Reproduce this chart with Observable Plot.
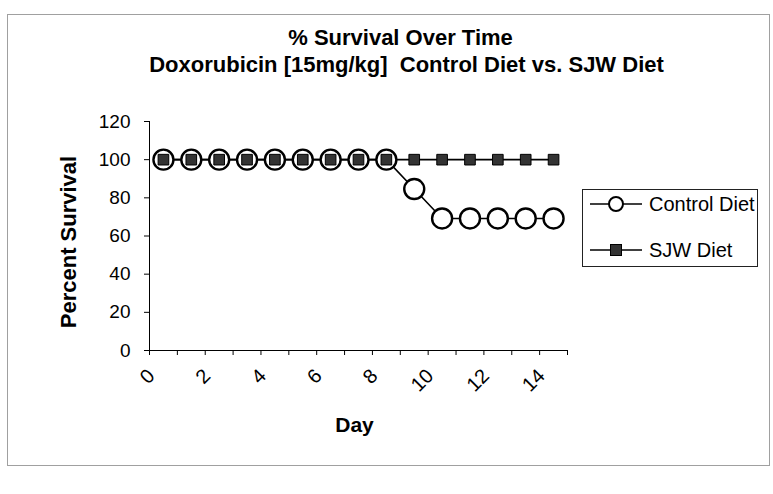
<!DOCTYPE html>
<html>
<head>
<meta charset="utf-8">
<script src="https://cdn.jsdelivr.net/npm/d3@7"></script>
<script src="https://cdn.jsdelivr.net/npm/@observablehq/plot@0.6"></script>
<style>
  html, body { margin: 0; padding: 0; background: #fff; }
  #wrap { position: relative; width: 773px; height: 494px; font-family: "Liberation Sans", Arial, sans-serif; }
  #border { position: absolute; left: 7px; top: 14px; width: 763px; height: 452px; border: 1px solid #a0a0a0; box-sizing: border-box; pointer-events: none; }
  #legend { position: absolute; left: 582px; top: 189px; width: 176px; height: 78px; border: 1px solid #222; box-sizing: border-box; background: #fff; }
  .item { position: absolute; left: 0; height: 24px; display: flex; align-items: center; font-size: 20px; color: #000; }
  .item svg { margin-left: 7px; margin-right: 7px; }
</style>
</head>
<body>
<div id="wrap">
  <div id="chart"></div>
  <div id="border"></div>
  <div id="legend"></div>
</div>
<script>
const days = [0, 1, 2, 3, 4, 5, 6, 7, 8, 9, 10, 11, 12, 13, 14];
const controlDiet = [100, 100, 100, 100, 100, 100, 100, 100, 100, 84.6, 69.2, 69.2, 69.2, 69.2, 69.2];
const sjwDiet = [100, 100, 100, 100, 100, 100, 100, 100, 100, 100, 100, 100, 100, 100, 100];
const seriesNames = ["Control Diet", "SJW Diet"];
const xTickLabels = [0, 2, 4, 6, 8, 10, 12, 14];
const yTicks = [0, 20, 40, 60, 80, 100, 120];
const titleLine1 = "% Survival Over Time";
const titleLine2 = "Doxorubicin [15mg/kg]  Control Diet vs. SJW Diet";
const xLabel = "Day";
const yLabel = "Percent Survival";

const control = days.map((d, i) => ({day: d, value: controlDiet[i]}));
const sjw = days.map((d, i) => ({day: d, value: sjwDiet[i]}));
// category boundaries (Excel-style tick marks between categories)
const boundaries = d3.range(days.length + 1).map(i => days[0] - 0.5 + i);

const font = "Liberation Sans, Arial, sans-serif";

const chart = Plot.plot({
  width: 773,
  height: 494,
  marginLeft: 149,
  marginRight: 206,
  marginTop: 121,
  marginBottom: 144,
  style: {fontFamily: font, background: "#fff", color: "#000"},
  x: {domain: [days[0] - 0.5, days[days.length - 1] + 0.5]},
  y: {domain: [0, 120]},
  marks: [
    Plot.axisY({ticks: yTicks, tickSize: 5, tickPadding: 14, fontSize: 19, label: null, stroke: "#000"}),
    Plot.axisX({ticks: boundaries, tickSize: 5, tickFormat: () => "", label: null, stroke: "#000"}),
    Plot.text(xTickLabels, {x: d => d, frameAnchor: "bottom", dx: -12, dy: 22, rotate: -45, textAnchor: "end", lineAnchor: "middle", fontSize: 20, fill: "#000"}),
    Plot.ruleY([0], {stroke: "#000", strokeWidth: 1}),
    Plot.ruleX([days[0] - 0.5], {y1: 0, y2: 120, stroke: "#000", strokeWidth: 1}),
    Plot.line(sjw, {x: "day", y: "value", stroke: "#000", strokeWidth: 1.6}),
    Plot.line(control, {x: "day", y: "value", stroke: "#000", strokeWidth: 1.6}),
    Plot.dot(control, {x: "day", y: "value", r: 10, fill: "#fff", stroke: "#000", strokeWidth: 2.4}),
    Plot.dot(sjw, {x: "day", y: "value", symbol: "square", r: 6, fill: "#333", stroke: "#000", strokeWidth: 1}),
    Plot.text([titleLine1], {frameAnchor: "top", dx: 42, dy: -77, lineAnchor: "bottom", fontSize: 22, fontWeight: "bold", fill: "#000"}),
    Plot.text([titleLine2], {frameAnchor: "top", dx: 48, dy: -50, lineAnchor: "bottom", fontSize: 22, fontWeight: "bold", fill: "#000"}),
    Plot.text([xLabel], {frameAnchor: "bottom", dx: -4, dy: 81, lineAnchor: "bottom", fontSize: 21, fontWeight: "bold", fill: "#000"}),
    Plot.text([yLabel], {frameAnchor: "left", dx: -81, dy: 6, rotate: -90, textAnchor: "middle", lineAnchor: "middle", fontSize: 22, fontWeight: "bold", fill: "#000"})
  ]
});
document.getElementById("chart").appendChild(chart);

// legend
const legend = document.getElementById("legend");
const markers = [
  `<svg width="52" height="24"><line x1="0" y1="12" x2="52" y2="12" stroke="#000" stroke-width="1.6"/><circle cx="26" cy="12" r="7" fill="#fff" stroke="#000" stroke-width="2"/></svg>`,
  `<svg width="52" height="24"><line x1="0" y1="12" x2="52" y2="12" stroke="#000" stroke-width="1.6"/><rect x="20.5" y="6.5" width="11" height="11" fill="#333" stroke="#000" stroke-width="1"/></svg>`
];
const tops = [2, 48];
seriesNames.forEach((name, i) => {
  const div = document.createElement("div");
  div.className = "item";
  div.style.top = tops[i] + "px";
  div.innerHTML = markers[i] + `<span>${name}</span>`;
  legend.appendChild(div);
});
</script>
</body>
</html>
